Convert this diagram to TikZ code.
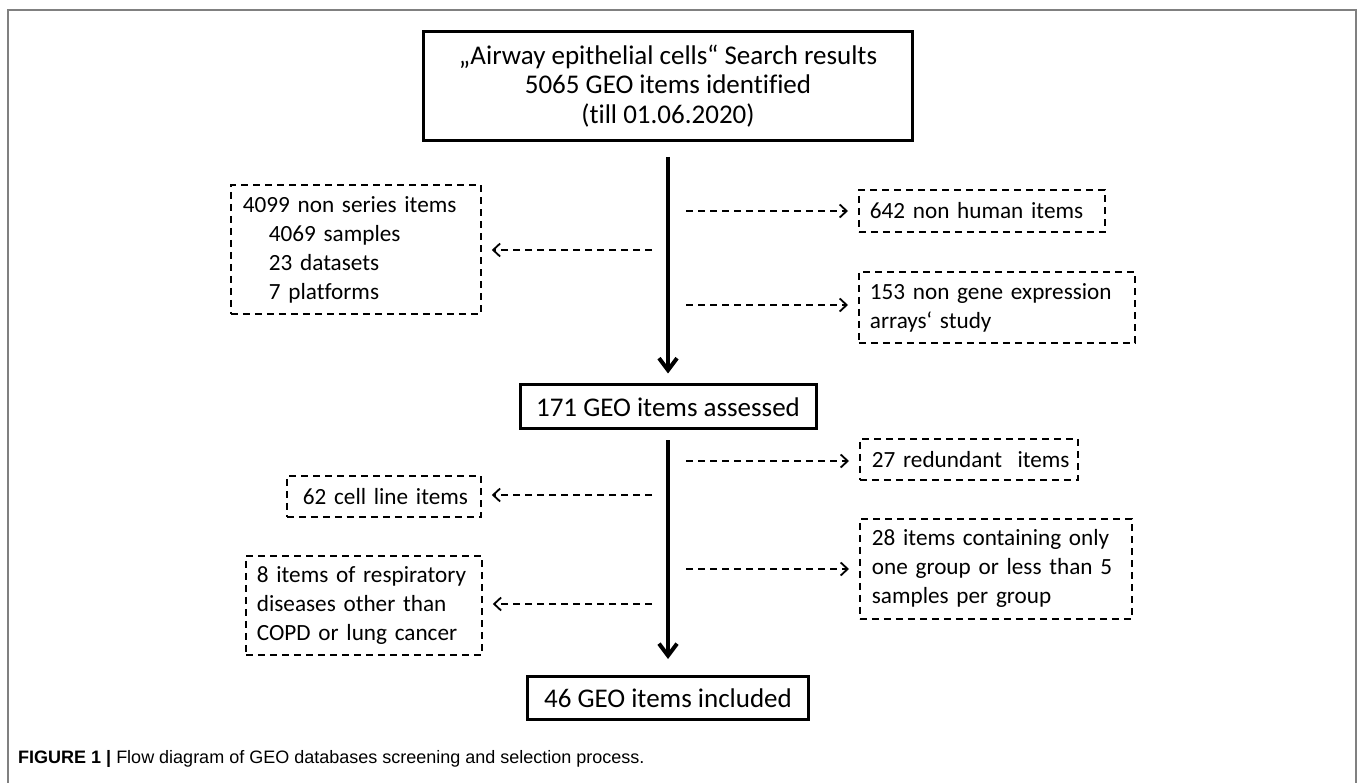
\documentclass[tikz,border=0pt]{standalone}
\usepackage{fontspec}
\setmainfont{Carlito}[Ligatures=NoCommon]
\newfontfamily\capfont{Liberation Sans}
\usetikzlibrary{arrows.meta}
\begin{document}
\begin{tikzpicture}[x=1pt,y=-1pt,
  solidbox/.style={draw, line width=3pt, inner sep=0pt, font=\fontsize{27}{29.5}\selectfont, align=center},
  dbox/.style={draw, line width=1.8pt, dash pattern=on 7pt off 5pt, inner ysep=0pt, font=\fontsize{23.2}{29}\selectfont, align=left, anchor=north west},
  mainarrow/.style={line width=4pt, -{Straight Barb[length=12pt,width=18pt,line width=4pt]}},
  darrow/.style={line width=1.8pt, dash pattern=on 7pt off 5pt, -{Straight Barb[length=7pt,width=13pt,line width=1.8pt]}, shorten >=10pt}
]
\useasboundingbox (0,0) rectangle (1358,783);
\draw[black!50, line width=2pt] (8,783) -- (8,10) -- (1356,10) -- (1356,783);

% main boxes
\node[solidbox, minimum width=489pt, minimum height=109pt] (top) at (668,86)
  {„Airway epithelial cells“ Search results\\5065 GEO items identified\\(till 01.06.2020)};
\node[solidbox, minimum width=296pt, minimum height=44pt] (assessed) at (668,407)
  {171 GEO items assessed};
\node[solidbox, minimum width=281pt, minimum height=43pt] (included) at (668,698)
  {46 GEO items included};

\draw[mainarrow, shorten <=15pt, shorten >=10pt] (top.south) -- (assessed.north);
\draw[mainarrow, shorten <=10pt, shorten >=16pt] (assessed.south) -- (included.north);

% dashed boxes
\node[dbox, inner xsep=12pt, text width=226pt, minimum width=250pt, minimum height=129pt] (nonseries) at (230,184)
  {\mbox{4099 non series items}\\\mbox{\hspace*{26pt}4069 samples}\\\mbox{\hspace*{26pt}23 datasets}\\\mbox{\hspace*{26pt}7 platforms}};
\node[dbox, inner xsep=11pt, text width=224pt, minimum width=246pt, minimum height=42pt] (nonhuman) at (858,189)
  {\mbox{642 non human items}};
\node[dbox, inner xsep=11pt, text width=254pt, minimum width=276pt, minimum height=71pt] (nongene) at (858,271)
  {\mbox{153 non gene expression}\\\mbox{arrays‘ study}};
\node[dbox, inner xsep=12pt, text width=194pt, minimum width=218pt, minimum height=41pt] (redundant) at (859,438)
  {\mbox{27 redundant\ \ items}};
\node[dbox, inner xsep=12pt, text width=248pt, minimum width=272pt, minimum height=100pt] (onlyone) at (859,518)
  {\mbox{28 items containing only}\\\mbox{one group or less than 5}\\\mbox{samples per group}};
\node[dbox, inner xsep=16pt, text width=162pt, minimum width=194pt, minimum height=41pt] (cellline) at (286,475)
  {\mbox{62 cell line items}};
\node[dbox, inner xsep=11pt, text width=214pt, minimum width=236pt, minimum height=99pt] (resp) at (245,555)
  {\mbox{8 items of respiratory}\\\mbox{diseases other than}\\\mbox{COPD or lung cancer}};

% dashed connectors
\coordinate (r1) at (686,211);
\coordinate (r2) at (686,305);
\coordinate (r3) at (686,461);
\coordinate (r4) at (686,569);
\coordinate (l1) at (652,250);
\coordinate (l2) at (652,495);
\coordinate (l3) at (652,604);
\draw[darrow] (r1) -- (r1 -| nonhuman.west);
\draw[darrow] (r2) -- (r2 -| nongene.west);
\draw[darrow] (r3) -- (r3 -| redundant.west);
\draw[darrow] (r4) -- (r4 -| onlyone.west);
\draw[darrow] (l1) -- (l1 -| nonseries.east);
\draw[darrow] (l2) -- (l2 -| cellline.east);
\draw[darrow] (l3) -- (l3 -| resp.east);

% caption
\node[anchor=base west, inner sep=0pt, font=\capfont\fontsize{18}{20}\selectfont] (cap) at (18,763)
  {\textbf{FIGURE 1 |} Flow diagram of GEO databases screening and selection process.};
\end{tikzpicture}
\end{document}
